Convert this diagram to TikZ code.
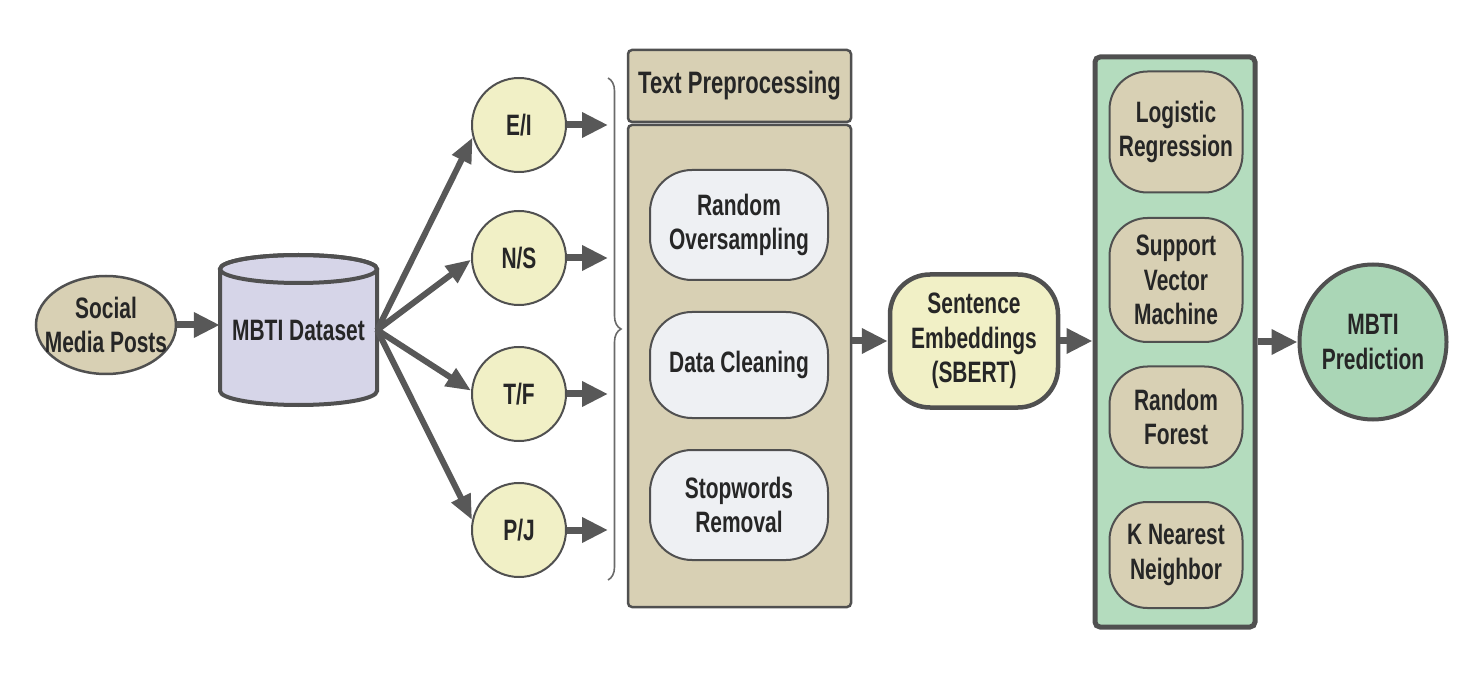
\documentclass[tikz,border=0pt]{standalone}
\usepackage{fontspec}
\setmainfont{Liberation Sans}[FakeStretch=0.71]
\usetikzlibrary{shapes.geometric, arrows.meta, positioning, calc, decorations.pathreplacing}

\definecolor{edgegray}{RGB}{80, 80, 80}
\definecolor{arrowgray}{RGB}{88, 88, 88}
\definecolor{inkgray}{RGB}{38, 38, 38}
\definecolor{tanbox}{RGB}{216, 208, 180}
\definecolor{lavbox}{RGB}{214, 213, 232}
\definecolor{creambox}{RGB}{241, 240, 198}
\definecolor{palebox}{RGB}{238, 240, 243}
\definecolor{greenbox}{RGB}{180, 220, 190}
\definecolor{predgreen}{RGB}{170, 214, 182}

\tikzset{
  lbl/.style={font=\fontsize{29.5}{34.5}\selectfont\bfseries, text=inkgray, align=center, inner sep=0pt},
  pill/.style={lbl, draw=edgegray, line width=2pt, rounded corners=42pt},
  trait/.style={lbl, circle, draw=edgegray, line width=2pt, fill=creambox, minimum size=94pt},
  bigarrow/.style={draw=arrowgray, line width=7pt, -{Triangle[length=26pt, width=24pt]}},
  fanarrow/.style={draw=arrowgray, line width=6pt, -{Triangle[length=25pt, width=20pt]}},
}

\begin{document}
\begin{tikzpicture}[x=1pt, y=-1pt]
  \useasboundingbox (0,0) rectangle (1484,676);

  % input side
  \node[lbl, ellipse, draw=edgegray, line width=2.5pt, fill=tanbox, inner xsep=-15pt, minimum width=140pt, minimum height=98pt] (posts) at (106,325) {Social\\Media Posts};

  \filldraw[draw=edgegray, fill=lavbox, line width=4pt]
    (220,269) -- (220,391) arc[start angle=180, end angle=0, x radius=78.5, y radius=14]
    -- (377,269) arc[start angle=0, end angle=-180, x radius=78.5, y radius=14] -- cycle;
  \draw[edgegray, line width=4pt] (298.5,269) ellipse [x radius=78.5, y radius=14];
  \node[lbl, minimum width=157pt, minimum height=150pt] (data) at (298.5,330) {\raisebox{-12pt}{MBTI Dataset}};

  \draw[bigarrow] (posts.east) -- (data.west |- posts.east);

  % the four MBTI axes
  \node[trait] (ei) at (519,125) {E/I};
  \node[trait] (ns) at (519,258) {N/S};
  \node[trait] (tf) at (519,394) {T/F};
  \node[trait] (pj) at (519,530) {P/J};

  \draw[fanarrow] (data.east) -- (ei.195);
  \draw[fanarrow] (data.east) -- (ns.182);
  \draw[fanarrow] (data.east) -- (tf.176);
  \draw[fanarrow] (data.east) -- (pj.168);

  \coordinate (braceTop) at (608,78);
  \coordinate (braceBot) at (608,580);
  \foreach \ax in {ei, ns, tf, pj}
    \draw[bigarrow] (\ax.east) -- (\ax.east -| braceTop);
  \draw[decorate, decoration={brace, amplitude=13pt}, draw=edgegray!85, line width=1.6pt] (braceTop) -- (braceBot);

  % preprocessing block
  \node[lbl, font=\fontsize{31}{35}\selectfont\bfseries, draw=edgegray, line width=2.5pt, fill=tanbox, rounded corners=4pt, minimum width=223pt, minimum height=72pt] (prephead) at (739.5,86) {Text Preprocessing};
  \node[draw=edgegray, line width=2.5pt, fill=tanbox, rounded corners=4pt, minimum width=223pt, minimum height=482pt] (prepbody) at (739.5,366) {};
  \node[pill, fill=palebox, minimum width=178pt, minimum height=110pt] (ros) at (739,225) {Random\\Oversampling};
  \node[pill, fill=palebox, minimum width=178pt, minimum height=106pt] (clean) at (739,365) {Data Cleaning};
  \node[pill, fill=palebox, minimum width=178pt, minimum height=110pt] (stop) at (739,505) {Stopwords\\Removal};

  % embeddings
  \node[lbl, draw=edgegray, line width=4.5pt, fill=creambox, rounded corners=40pt, minimum width=168pt, minimum height=133pt] (sbert) at (974,341) {Sentence\\Embeddings\\(SBERT)};
  \draw[bigarrow] (prepbody.east |- sbert.west) -- (sbert.west);

  % classifiers
  \node[draw=edgegray, line width=5pt, fill=greenbox, rounded corners=5pt, minimum width=160pt, minimum height=570pt] (models) at (1175,342) {};
  \node[pill, fill=tanbox, rounded corners=38pt, minimum width=133pt, minimum height=121pt] (logreg) at (1176,132) {Logistic\\Regression};
  \node[pill, fill=tanbox, rounded corners=38pt, minimum width=133pt, minimum height=124pt] (svm) at (1176,280) {Support\\Vector\\Machine};
  \node[pill, fill=tanbox, rounded corners=38pt, minimum width=133pt, minimum height=101pt] (rf) at (1176,417) {Random\\Forest};
  \node[pill, fill=tanbox, rounded corners=38pt, minimum width=133pt, minimum height=106pt] (knn) at (1176,555) {K Nearest\\Neighbor};
  \draw[bigarrow] (sbert.east) -- (models.west |- sbert.east);

  % output
  \node[lbl, ellipse, draw=edgegray, line width=4pt, fill=predgreen, minimum width=147pt, minimum height=155pt] (pred) at (1373,342) {MBTI\\Prediction};
  \draw[bigarrow] (models.east |- pred.west) -- (pred.west);
\end{tikzpicture}
\end{document}
